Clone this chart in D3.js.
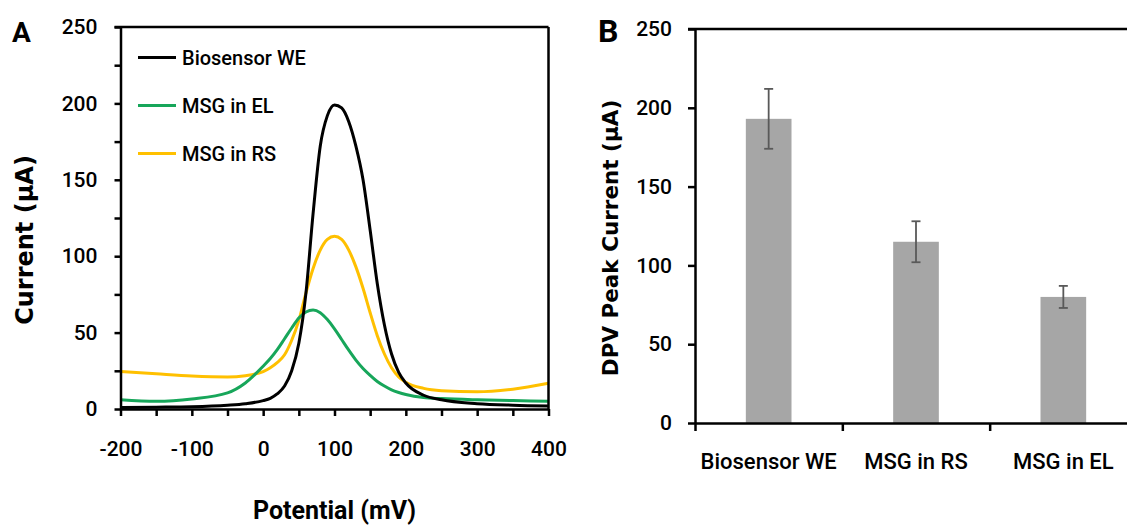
<!DOCTYPE html>
<html>
<head>
<meta charset="utf-8">
<script src="https://cdn.jsdelivr.net/npm/d3@7"></script>
<style>
  body { margin: 0; background: #fff; }
  svg text { font-family: Roboto, 'DejaVu Sans Condensed', sans-serif; font-weight: 500; fill: #000; }
  .axis path, .axis line { stroke: #000; stroke-width: 2.5; }
  .title { font-family: 'DejaVu Sans', sans-serif; font-weight: bold; }
</style>
</head>
<body>
<div id="chart"></div>
<script>
// panel A - DPV curves
const potential = [-200, -150, -100, -50, -25, 0, 10, 20, 30, 40, 50, 60, 70, 80, 90, 100,
  110, 120, 130, 140, 150, 160, 170, 180, 190, 200, 225, 250, 300, 350, 400];
const biosensorWE = [1, 1.2, 1.5, 2.5, 3.5, 5.5, 7, 10, 15, 25, 43, 76, 128, 172, 192, 199,
  197, 188, 172, 150, 117, 82, 55, 36, 24, 17, 9, 6, 3.5, 2.5, 2];
const msgInEL = [6, 5, 6.5, 10.5, 17, 28, 33, 39, 46, 53, 59.5, 63.5, 64.8, 63, 58.5, 52.5,
  45.5, 38.5, 32, 26.5, 22, 18, 15, 12.5, 10.8, 9.5, 7.5, 6.8, 6, 5.5, 5];
const msgInRS = [24.5, 23, 21.6, 21, 21.8, 24.5, 27, 30.5, 35.5, 45, 58, 76, 92, 104, 111, 113,
  111, 104, 93, 79, 63, 48, 36, 27, 21, 17.5, 13.5, 12, 11.3, 13, 16.8];
const seriesNames = ["Biosensor WE", "MSG in EL", "MSG in RS"];
const seriesColors = ["#000000", "#17a65a", "#ffc000"];

// panel B - peak currents
const categories = ["Biosensor WE", "MSG in RS", "MSG in EL"];
const peakValues = [193, 115, 80];
const peakErrors = [19, 13, 7];

(function () {
  var svg = d3.select("#chart").append("svg")
    .attr("width", 1127)
    .attr("height", 525);

  svg.append("rect").attr("width", 1127).attr("height", 525).attr("fill", "#fff");

  // ---------- PANEL A ----------
  var A = { left: 120.5, right: 548.5, top: 27, bottom: 409 };

  var x = d3.scaleLinear().domain([-200, 400]).range([A.left, A.right]);
  var y = d3.scaleLinear().domain([0, 250]).range([A.bottom, A.top]);

  svg.append("clipPath").attr("id", "clipA")
    .append("rect")
    .attr("x", A.left).attr("y", A.top)
    .attr("width", A.right - A.left).attr("height", A.bottom - A.top);

  var line = d3.line()
    .x(d => x(d[0]))
    .y(d => y(d[1]))
    .curve(d3.curveMonotoneX);

  var curves = [biosensorWE, msgInEL, msgInRS];
  // yellow, green, then black on top
  [2, 1, 0].forEach(function (i) {
    svg.append("path")
      .datum(potential.map((p, j) => [p, curves[i][j]]))
      .attr("clip-path", "url(#clipA)")
      .attr("fill", "none")
      .attr("stroke", seriesColors[i])
      .attr("stroke-width", 3)
      .attr("stroke-linejoin", "round")
      .attr("d", line);
  });

  var yAxisA = svg.append("g").attr("class", "axis")
    .attr("transform", "translate(" + A.left + ",0)")
    .call(d3.axisLeft(y).tickValues(d3.range(0, 251, 25))
      .tickFormat(d => d % 50 === 0 ? d : "")
      .tickSize(6).tickSizeOuter(0).tickPadding(17));
  yAxisA.selectAll("text").style("font-size", "21px");

  var xAxisA = svg.append("g").attr("class", "axis")
    .attr("transform", "translate(0," + A.bottom + ")")
    .call(d3.axisBottom(x).tickValues(d3.range(-200, 401, 50))
      .tickFormat(d => d % 100 === 0 ? d : "")
      .tickSize(7).tickSizeOuter(0));
  xAxisA.selectAll("text").style("font-size", "21px").attr("y", 47).attr("dy", null);

  // box top / right
  svg.append("line").attr("x1", A.left - 6).attr("x2", A.right)
    .attr("y1", A.top).attr("y2", A.top).attr("stroke", "#000").attr("stroke-width", 2.5);
  svg.append("line").attr("x1", A.right).attr("x2", A.right)
    .attr("y1", A.top).attr("y2", A.bottom).attr("stroke", "#000").attr("stroke-width", 2.5);

  // legend
  var legend = svg.append("g");
  seriesNames.forEach(function (name, i) {
    var ly = 57.5 + i * 48;
    legend.append("line").attr("x1", 138).attr("x2", 176)
      .attr("y1", ly).attr("y2", ly)
      .attr("stroke", seriesColors[i]).attr("stroke-width", 3);
    legend.append("text").attr("x", 182).attr("y", ly + 7.5)
      .style("font-size", "20px").text(name);
  });

  svg.append("text").attr("class", "title")
    .attr("transform", "translate(33,240) rotate(-90)")
    .attr("text-anchor", "middle")
    .style("font-size", "24px")
    .text("Current (µA)");

  svg.append("text")
    .attr("x", (A.left + A.right) / 2).attr("y", 519)
    .attr("text-anchor", "middle")
    .style("font-size", "25px").style("font-weight", "bold")
    .text("Potential (mV)");

  svg.append("text").attr("x", 12).attr("y", 42)
    .style("font-size", "28px").style("font-weight", "bold").text("A");

  // ---------- PANEL B ----------
  var B = { left: 695, right: 1137, top: 29, bottom: 423 };

  var xb = d3.scaleBand().domain(categories)
    .range([B.left, B.right]).paddingInner(0.69).paddingOuter(0.345);
  var xIdx = d3.scaleLinear().domain([0, categories.length]).range([B.left, B.right]);
  var yb = d3.scaleLinear().domain([0, 250]).range([B.bottom, B.top]);

  svg.selectAll(".bar")
    .data(categories)
    .enter().append("rect")
    .attr("class", "bar")
    .attr("x", d => xb(d))
    .attr("width", xb.bandwidth())
    .attr("y", (d, i) => yb(peakValues[i]))
    .attr("height", (d, i) => yb(0) - yb(peakValues[i]))
    .attr("fill", "#a6a6a6");

  var err = svg.selectAll(".err")
    .data(categories)
    .enter().append("g")
    .attr("class", "err")
    .attr("stroke", "#595959")
    .attr("stroke-width", 1.8);
  err.append("line")
    .attr("x1", d => xb(d) + xb.bandwidth() / 2)
    .attr("x2", d => xb(d) + xb.bandwidth() / 2)
    .attr("y1", (d, i) => yb(peakValues[i] + peakErrors[i]))
    .attr("y2", (d, i) => yb(peakValues[i] - peakErrors[i]));
  [1, -1].forEach(function (s) {
    err.append("line")
      .attr("x1", d => xb(d) + xb.bandwidth() / 2 - 4.5)
      .attr("x2", d => xb(d) + xb.bandwidth() / 2 + 4.5)
      .attr("y1", (d, i) => yb(peakValues[i] + s * peakErrors[i]))
      .attr("y2", (d, i) => yb(peakValues[i] + s * peakErrors[i]));
  });

  var yAxisB = svg.append("g").attr("class", "axis")
    .attr("transform", "translate(" + B.left + ",0)")
    .call(d3.axisLeft(yb).tickValues(d3.range(0, 251, 50))
      .tickSize(7).tickSizeOuter(0).tickPadding(16));
  yAxisB.selectAll("text").style("font-size", "21px");

  // boundary ticks between categories
  svg.append("g").attr("class", "axis")
    .attr("transform", "translate(0," + B.bottom + ")")
    .call(d3.axisBottom(xIdx).tickValues(d3.range(0, categories.length + 1))
      .tickFormat("").tickSize(8).tickSizeOuter(0));

  // category labels
  var xAxisB = svg.append("g")
    .attr("transform", "translate(0," + B.bottom + ")")
    .call(d3.axisBottom(xb).tickSize(0));
  xAxisB.select(".domain").remove();
  xAxisB.selectAll("text").style("font-size", "22px").attr("y", 46).attr("dy", null);

  svg.append("line").attr("x1", B.left - 7).attr("x2", B.right)
    .attr("y1", B.top).attr("y2", B.top).attr("stroke", "#000").attr("stroke-width", 2.5);

  svg.append("text").attr("class", "title")
    .attr("transform", "translate(618,238) rotate(-90)")
    .attr("text-anchor", "middle")
    .style("font-size", "21.5px")
    .text("DPV Peak Current (µA)");

  svg.append("text").attr("x", 598).attr("y", 42)
    .style("font-size", "32px").style("font-weight", "bold").text("B");
})()
</script>
</body>
</html>
